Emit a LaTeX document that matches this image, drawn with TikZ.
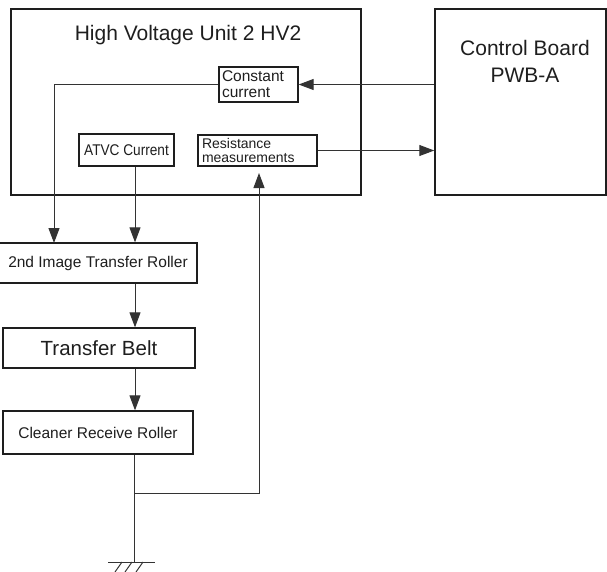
\documentclass[tikz,border=0pt]{standalone}
\usepackage{fontspec}
\setmainfont{Liberation Sans}
\newfontfamily\hvnarrow[FakeStretch=0.88]{Liberation Sans}
\usetikzlibrary{arrows.meta}
\definecolor{hvink}{HTML}{1E1E1E}
\definecolor{hvwirec}{HTML}{333333}
\tikzset{
  hvbox/.style  ={rectangle, draw=hvink, line width=1.5pt, inner sep=0pt},
  hvsub/.style  ={rectangle, draw=hvink, line width=1.3pt, fill=white, inner sep=0pt,
                  align=center, text=hvink, font=\fontsize{15.5}{16}\selectfont},
  hvwire/.style ={draw=hvwirec, line width=1pt},
  hvarrow/.style={hvwire, -{Triangle[length=15pt,width=11pt]}},
  hvlbl/.style  ={font=\fontsize{21}{27}\selectfont, text=hvink, align=center},
}

\begin{document}
\begin{tikzpicture}[x=1pt,y=-1pt]
  \useasboundingbox (0,0) rectangle (607,571);
  % the two units
  \node[hvbox, minimum width=350pt, minimum height=186pt] (hv) at (186,102) {};
  \node[hvlbl] (hvtitle) at (188,35) {High Voltage Unit 2 HV2};
  \node[hvbox, minimum width=171pt, minimum height=186pt] (cb) at (520.5,102) {};
  \node[hvlbl] (cbtitle) at (525,61) {Control Board\\PWB-A};
  % blocks inside HV2
  \node[hvsub, minimum width=79pt, minimum height=35pt, text width=73pt, align=left]
       (cc) at (258.5,84.5) {Constant\\current};
  \node[hvsub, minimum width=95pt, minimum height=32pt]
       (atvc) at (126.5,150) {\hvnarrow ATVC Current};
  \node[hvsub, minimum width=119pt, minimum height=31pt, text width=111pt, align=left,
        font=\fontsize{14}{14.5}\selectfont]
       (rm) at (257.5,150.5) {Resistance\\measurements};
  % transfer chain
  \node[hvsub, minimum width=198pt, minimum height=40pt] (itr) at (98,263)
       {2nd Image Transfer Roller};
  \node[hvsub, minimum width=192pt, minimum height=40pt, font=\fontsize{20.5}{22}\selectfont]
       (belt) at (99,348) {Transfer Belt};
  \node[hvsub, minimum width=190pt, minimum height=43pt] (crr) at (98,432.5)
       {Cleaner Receive Roller};
  % helper points
  \coordinate (spine) at (135,0);
  \coordinate (itrin) at (54,243);
  \coordinate (jn) at (134,493);
  \coordinate (rmin) at (259,173);
  \coordinate (gnd) at (134,562);
  % connectors
  \draw[hvarrow] (cb.west |- cc.east) -- (cc.east);
  \draw[hvarrow] (rm.east) -- (rm.east -| cb.west);
  \draw[hvarrow] (cc.west) -| (itrin);
  \draw[hvarrow] (atvc.south -| spine) -- (itr.north -| spine);
  \draw[hvarrow] (itr.south -| spine) -- (belt.north -| spine);
  \draw[hvarrow] (belt.south -| spine) -- (crr.north -| spine);
  \draw[hvwire] (crr.south -| jn) -- (gnd);
  \draw[hvarrow] (jn) -| (rmin);
  % ground
  \draw[hvwire] ([xshift=-26pt]gnd) -- ([xshift=21pt]gnd);
  \foreach \dx in {-12,-2,9}
    \draw[hvwire] ([xshift=\dx pt]gnd) -- ++(-7,10);
\end{tikzpicture}
\end{document}
